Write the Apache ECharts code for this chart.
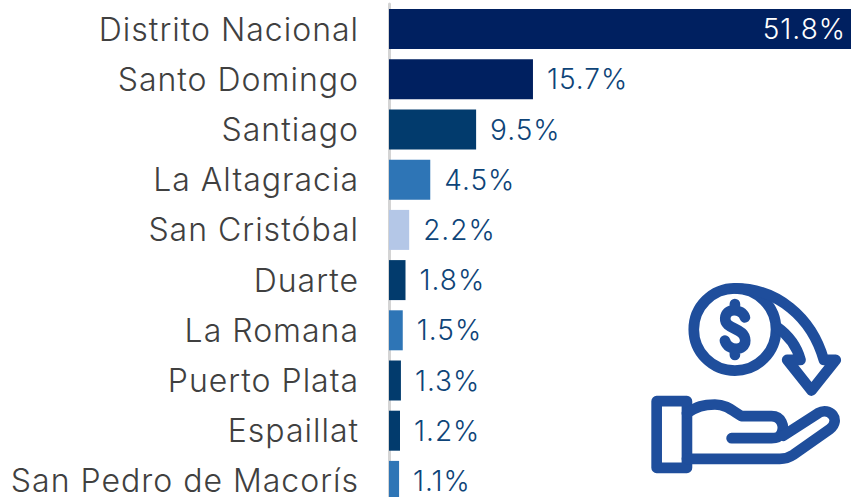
<!DOCTYPE html>
<html><head><meta charset="utf-8">
<style>html,body{margin:0;padding:0;background:#fff;overflow:hidden}#c{width:851px;height:497px}
#c svg text{letter-spacing:1px}</style>
<script src="https://cdn.jsdelivr.net/npm/echarts@6/dist/echarts.min.js"></script>
</head><body><div id="c"></div>
<script>
const categories = ['Distrito Nacional','Santo Domingo','Santiago','La Altagracia','San Cristóbal','Duarte','La Romana','Puerto Plata','Espaillat','San Pedro de Macorís'];
const values = [51.8,15.7,9.5,4.5,2.2,1.8,1.5,1.3,1.2,1.1];
const barColors = ['#002060','#002060','#023b6d','#2e75b6','#b4c7e7','#023b6d','#2e75b6','#023b6d','#023b6d','#2e75b6'];
const FONT = 'Inter';
const ICON = '#1f4e9c';
const chart = echarts.init(document.getElementById('c'), null, {renderer:'svg'});
const iconStroke = {fill:null, stroke:ICON, lineWidth:32, lineCap:'round', lineJoin:'round'};
const iconPaths = [
 'M 285 55 A 122 122 0 1 1 285 302 A 122 122 0 1 1 285 55 Z',
 'M 315 142 C 305 115 258 112 256 145 C 254 180 316 172 316 212 C 316 245 265 245 255 212 M 285 102 L 285 118 M 285 240 L 285 255',
 'M 285 55 C 410 55 515 140 552 270 L 588 270 L 515 362 L 442 270 L 482 270 C 470 225 445 195 410 170',
 'M 50 394 L 141 394 L 141 594 L 50 594 Z',
 'M 141 430 C 170 410 190 404 225 404 C 260 404 280 425 305 439 L 395 439 C 425 439 435 470 425 490 C 418 503 410 505 395 505 L 275 505',
 'M 430 498 L 535 430 C 570 410 605 450 570 478 L 460 555 C 445 565 435 567 420 567 L 141 567'
];
iconPaths.forEach((d,i)=>echarts.graphic.registerShape('iconPart'+i, echarts.graphic.extendPath(d,{})));
chart.setOption({
 animation:false,
 backgroundColor:'#fff',
 grid:{left:389,top:4,width:475,height:502,containLabel:false,outerBoundsMode:'none'},
 xAxis:{type:'value',min:0,max:51.8,show:false},
 yAxis:{type:'category',inverse:true,data:categories,
   axisTick:{show:false},
   axisLine:{show:true,lineStyle:{color:'#d4d4d4',width:3}},
   axisLabel:{margin:30,color:'#404040',fontFamily:FONT,fontWeight:300,fontSize:32,interval:0}},
 series:[{type:'bar',barWidth:40,
   data:values.map((v,i)=>{
     const d={value:v,itemStyle:{color:barColors[i]}};
     if(i===0) d.label={position:'insideRight',offset:[-5,0],distance:13,color:'#ffffff'};
     return d;
   }),
   label:{show:true,position:'right',distance:14,color:'#0e4478',fontFamily:FONT,fontWeight:300,fontSize:28,
     formatter:p=>p.value.toFixed(1)+'%'}}],
 graphic:[{type:'group',x:640,y:270,scaleX:1/3,scaleY:1/3,silent:true,
   children:iconPaths.map((d,i)=>({type:'iconPart'+i,shape:{},style:iconStroke}))}]
});
</script></body></html>
